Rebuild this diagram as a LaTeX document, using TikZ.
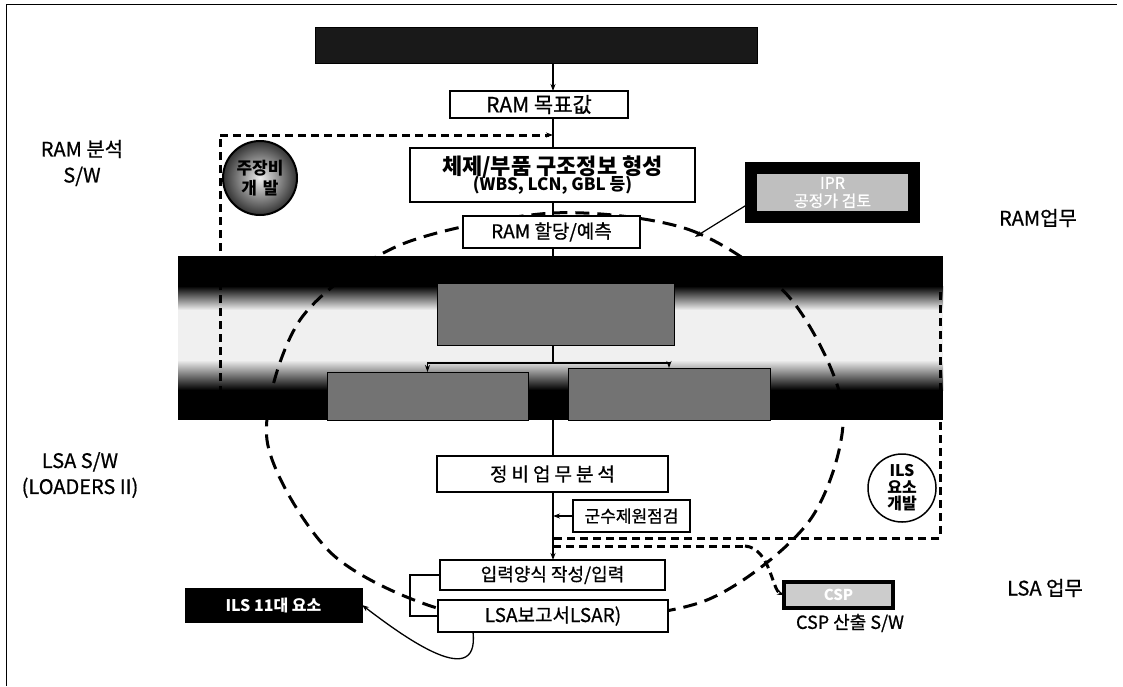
\documentclass[tikz,border=0pt]{standalone}
\usepackage{fontspec}
\setmainfont{Noto Sans CJK KR}
\newfontfamily\medfont{Noto Sans CJK KR}[FakeBold=0.7]
\usetikzlibrary{arrows.meta}
\begin{document}
\begin{tikzpicture}[x=1pt,y=-1pt,
  wbox/.style={draw=black, line width=1.3pt, fill=white, inner sep=0pt, outer sep=0pt, align=center},
  dbox/.style={draw=black, line width=1pt, fill=black, inner sep=0pt, outer sep=0pt, text=white, align=center},
  gbox/.style={draw=black, line width=1pt, fill=black!55, inner sep=0pt, outer sep=0pt},
  lbl/.style={align=center, inner sep=0pt, font=\medfont\fontsize{20}{26}\selectfont},
  arr/.style={-{Stealth[length=7pt,width=5pt]}, line width=1.2pt},
  sline/.style={line width=1.2pt},
  rdash/.style={dash pattern=on 8pt off 5pt, line width=3pt},
  edash/.style={dash pattern=on 14pt off 8pt, line width=3pt},
]
\useasboundingbox (0,0) rectangle (1123,686);
% frame
\draw[line width=1pt] (6,686) -- (6,4) -- (1117,4);

% band
\fill[black] (178,256) rectangle (943,420);
\shade[top color=black, bottom color=gray!12] (178,286) rectangle (943,310);
\fill[gray!12] (178,310) rectangle (943,360);
\shade[top color=gray!12, bottom color=black] (178,360) rectangle (943,390);

% dashed ellipse
\draw[edash] plot[smooth cycle] coordinates {(553,213) (690,230) (790,298) (843,410) (810,520) (707,600) (560,622) (437,608) (330,552) (267,440) (300,320) (400,245)};

% dashed rectangles
\coordinate (ax) at (553,0);
\coordinate (dtl) at (220,135);
\coordinate (dbl) at (220,420);
\draw[rdash] (dbl) -- (dtl);
\coordinate (drt) at (940,292);
\coordinate (drb) at (940,538);
\draw[rdash] (drt) -- (drb) -- (drb -| ax);
\coordinate (cspa) at (553,546);
\coordinate (cspb) at (745,546);

% boxes
\node[dbox, fill=black!90, minimum width=442pt, minimum height=36pt] (top) at (536,45) {};
\node[wbox, minimum width=178pt, minimum height=27pt, font=\medfont\fontsize{21}{24}\selectfont] (ramgoal) at (539,104.5) {RAM 목표값};
\node[wbox, minimum width=285pt, minimum height=54pt] (struct) at (552.5,175)
  {{\fontsize{22}{25}\selectfont\bfseries 체제/부품 구조정보 형성}\\[-3pt]{\fontsize{17}{20}\selectfont\bfseries (WBS, LCN, GBL 등)}};
\node[wbox, minimum width=177pt, minimum height=32pt, font=\medfont\fontsize{19}{22}\selectfont] (alloc) at (551.5,232) {RAM 할당/예측};
\node[gbox, minimum width=237pt, minimum height=62pt] (fmeca) at (556,314) {};
\node[gbox, minimum width=201pt, minimum height=48pt] (lowL) at (427.5,396) {};
\node[gbox, minimum width=202pt, minimum height=52pt] (lowR) at (669,394) {};
\node[wbox, minimum width=231pt, minimum height=36pt, font=\medfont\fontsize{19}{22}\selectfont] (maint) at (552.5,474) {정\kern4pt 비\kern4pt 업\kern4pt 무\kern4pt 분\kern4pt 석};
\node[wbox, minimum width=117pt, minimum height=32pt, font=\medfont\fontsize{17}{20}\selectfont] (check) at (631.5,516) {군수제원점검};
\node[wbox, minimum width=225pt, minimum height=30pt, font=\medfont\fontsize{18}{20}\selectfont] (input) at (552.5,575) {입력양식 작성/입력};
\node[wbox, minimum width=230pt, minimum height=32pt, font=\medfont\fontsize{19}{22}\selectfont] (lsar) at (553,616) {LSA보고서LSAR)};
\node[dbox, minimum width=177pt, minimum height=34pt, font=\fontsize{16}{18}\selectfont\bfseries] (ils) at (273.5,605) {ILS 11대 요소};
\node[draw=black, line width=4pt, fill=gray!40, inner sep=0pt, outer sep=0pt, text=white, minimum width=109pt, minimum height=26pt, font=\fontsize{15}{18}\selectfont\bfseries] (csp) at (838.5,595) {CSP};
\node[draw=black, line width=12pt, fill=gray!50, inner sep=0pt, outer sep=0pt, text=white, align=center, minimum width=163pt, minimum height=49pt, font=\medfont\fontsize{16}{18}\selectfont] (ipr) at (832.5,192.5) {IPR\\공정가 검토};

% circles
\node[circle, draw=black, line width=2pt, minimum size=74pt, inner sep=0pt, inner color=gray!15, outer color=black!80, align=center, font=\fontsize{17}{20}\selectfont\bfseries] (jang) at (260,178) {주장비\\개\kern6pt 발};
\node[circle, draw=black, line width=1.5pt, fill=white, minimum size=68pt, inner sep=0pt, align=center, font=\fontsize{16}{16.5}\selectfont\bfseries] (ilsc) at (902,488) {ILS\\요소\\개발};

% labels
\node[lbl] (l1) at (82,163) {RAM 분석\\S/W};
\node[lbl] (l2) at (1038,218) {RAM업무};
\node[lbl] (l3) at (80,475) {LSA S/W\\(LOADERS II)};
\node[lbl] (l4) at (1045,588) {LSA 업무};
\node[lbl, font=\medfont\fontsize{18}{22}\selectfont] (l5) at (850,623) {CSP 산출 S/W};

% connectors
\draw[arr] (top.south -| ax) -- (ramgoal.north -| ax);
\draw[sline] (ramgoal.south -| ax) -- (struct.north -| ax);
\draw[rdash, -{Stealth[length=7pt,width=5pt]}] (dtl) -- (dtl -| ax);
\draw[sline] (struct.south -| ax) -- (alloc.north -| ax);
\draw[sline] (alloc.south -| ax) -- (fmeca.north -| ax);
\coordinate (split) at (553,363);
\draw[sline] (fmeca.south -| ax) -- (split);
\draw[arr] (split) -| (lowL.north);
\draw[arr] (split) -| (lowR.north);
\coordinate (bandout) at (553,405);
\draw[sline] (bandout) -- (maint.north -| ax);
\draw[arr] (maint.south -| ax) -- (input.north -| ax);
\draw[arr] (check.west) -- (check.west -| ax);
\draw[sline] (input.west) -- ++(-30,0) |- (lsar.west);
\draw[arr, line width=1.3pt] ([xshift=-80pt]lsar.south) .. controls (480,695) and (395,630) .. (ils.east);
\coordinate (iprend) at (695,237);
\draw[arr] ([xshift=2pt,yshift=16pt]ipr.south west) -- (iprend);
\draw[rdash] (cspa) -- (cspb);
\draw[rdash, -{Stealth[length=7pt,width=5pt]}] (cspb) .. controls (770,548) and (772,590) .. (csp.west);
\end{tikzpicture}
\end{document}
